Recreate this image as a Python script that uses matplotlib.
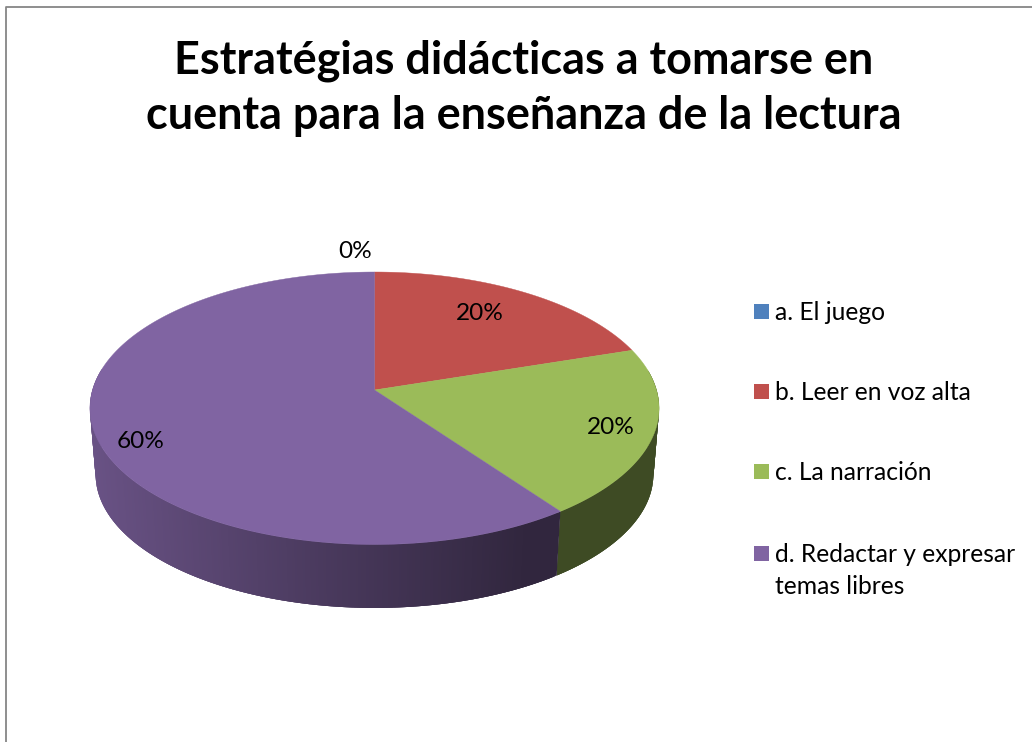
import numpy as np
import matplotlib
matplotlib.use("Agg")
import matplotlib.pyplot as plt
from matplotlib.colors import to_rgb
from matplotlib.patches import Polygon, Rectangle

plt.rcParams['font.family'] = ['Lato', 'DejaVu Sans']

TITLE = "Estratégias didácticas a tomarse en\ncuenta para la enseñanza de la lectura"
categories = ["a. El juego", "b. Leer en voz alta", "c. La narración",
              "d. Redactar y expresar\ntemas libres"]
values = [0, 20, 20, 60]
colors = ["#4f81bd", "#c0504d", "#9bbb59", "#8064a2"]
pct_labels = ["0%", "20%", "20%", "60%"]


def project(theta, scale=1.0, dy=0.0):
    """Map angle (clockwise from top) on the pie rim to tilted picture coords."""
    u, v = np.sin(theta), np.cos(theta)
    d = 1 + 0.134 * v
    return 374.5 + scale * 282 * u / d, 390 + dy - scale * 133.8 * v / d


fig = plt.figure(figsize=(10.32, 7.42), dpi=100)
ax = fig.add_axes([0, 0, 1, 1])
ax.set_xlim(0, 1032)
ax.set_ylim(742, 0)
ax.axis('off')

# Chart frame, cut off by the right and bottom of the picture
ax.plot([5.5, 5.5, 1032], [742, 6.5, 6.5], color='#868686', lw=1.3)

ax.text(524, 88, TITLE, ha='center', va='center', fontsize=32.4,
        fontweight='bold', color='black', linespacing=1.37)

edges = np.cumsum([0] + values) / sum(values) * 2 * np.pi

# Side wall, one thin strip per step so the shading runs along the rim.
# Each strip overlaps the next one to hide the seams.
for start, end, col in zip(edges[:-1], edges[1:], colors):
    if end - start == 0:
        continue
    steps = np.linspace(start, end, max(int((end - start) * 120), 2))
    step = steps[1] - steps[0]
    for a, b in zip(steps[:-1], steps[1:]):
        mid = (a + b) / 2
        if np.cos(mid) > 0.15:
            continue  # back of the pie is hidden
        x_mid = project(mid)[0]
        if col == "#9bbb59":
            shade = 0.40
        else:
            shade = np.interp(x_mid, [90, 300, 530], [0.82, 0.60, 0.38])
        face = tuple(c * shade for c in to_rgb(col))
        arc = np.array([a, min(b + 2 * step, end)])
        x1, y1 = project(arc)
        x2, y2 = project(arc, scale=0.98, dy=66.5)
        ax.add_patch(Polygon(list(zip(x1, y1)) + list(zip(x2[::-1], y2[::-1])),
                             facecolor=face, edgecolor='none', zorder=2))

# Top face
for start, end, col in zip(edges[:-1], edges[1:], colors):
    if end - start == 0:
        continue
    x, y = project(np.linspace(start, end, 200))
    ax.add_patch(Polygon(np.column_stack([np.r_[374.5, x], np.r_[390, y]]),
                         facecolor=col, edgecolor=col, lw=0.3, zorder=3))

# Data labels
label_x = [355, 479.5, 611, 141]
label_y = [252, 313, 427, 441]
for lx, ly, txt in zip(label_x, label_y, pct_labels):
    ax.text(lx, ly, txt, ha='center', va='center', fontsize=17.6, color='black', zorder=4)

# Legend
legend_y = [311, 391, 471, 553]
for ly, cat, col in zip(legend_y, categories, colors):
    ax.add_patch(Rectangle((754, ly - 7.5), 15, 15, facecolor=col, edgecolor='none'))
    ax.text(775, ly - 10, cat, ha='left', va='top', fontsize=17.7, color='black',
            linespacing=1.45)

fig.savefig("out.png", dpi=100)
